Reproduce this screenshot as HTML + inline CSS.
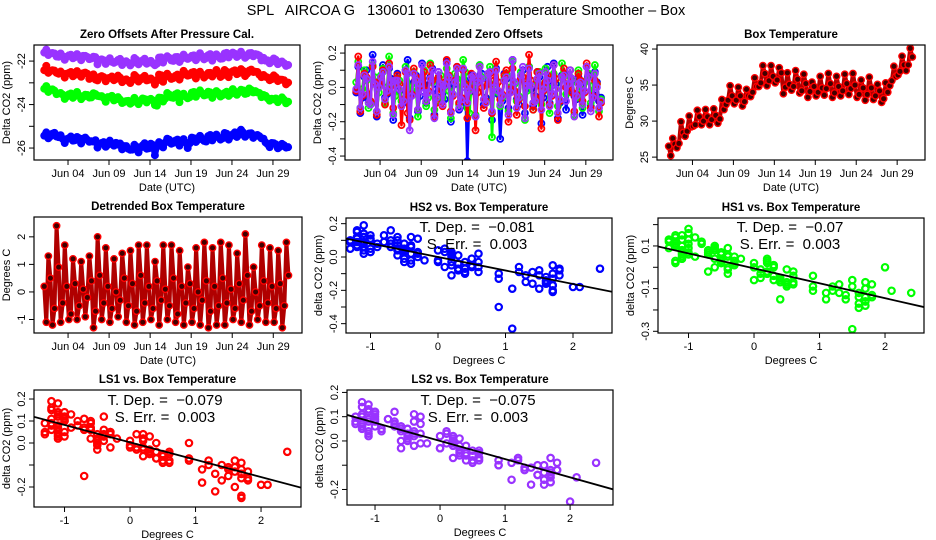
<!DOCTYPE html>
<html><head><meta charset="utf-8"><style>
body{margin:0;background:#fff}
svg{display:block;font-family:"Liberation Sans",sans-serif}
text{white-space:pre}
</style></head><body>
<svg id="chart" width="936" height="540" viewBox="0 0 936 540">
<text x="466" y="15" text-anchor="middle" font-size="14.5" xml:space="preserve">SPL   AIRCOA G   130601 to 130630   Temperature Smoother – Box</text>
</svg>
<script>
// sampling: 4 samples per day starting day 0.1
const sampleStart = 0.1, samplesPerDay = 4;
const dateTicks = [3, 8, 13, 18, 23, 28];
const dateLabels = ["Jun 04","Jun 09","Jun 14","Jun 19","Jun 24","Jun 29"];
// detrended box temperature (deg C)
const tempDetr = [
0.2,-1.1,1.3,0.5, -1.2,-0.6,2.4,0.9, -1.1,-0.4,1.7,0.2, -1.0,-0.8,1.2,0.3, -1.0,-0.5,1.1,0.1,
-0.9,-0.2,1.3,0.4, -1.3,-0.7,2.0,0.6, -1.0,-0.4,1.6,0.2, -1.1,-0.6,1.2,0.0, -0.9,-0.3,1.4,0.5,
-1.1,-0.5,1.5,0.3, -1.2,-0.7,1.7,0.6, -1.1,-0.4,1.7,0.2, -1.0,-0.6,1.1,0.4, -1.2,-0.3,1.7,0.1,
-1.0,-0.5,1.7,0.5, -1.1,-0.8,1.5,0.2, -1.2,-0.4,0.9,0.3, -1.1,-0.6,1.6,0.0, -1.2,-0.3,1.8,0.4,
-1.3,-0.7,1.6,0.2, -1.2,-0.5,1.8,0.5, -1.2,-0.4,1.7,0.1, -1.0,-0.6,1.4,0.3, -1.1,-0.3,2.1,0.6,
-1.2,-0.7,0.9,0.0, -1.0,-0.5,1.7,0.4, -1.1,-0.4,1.6,0.2, -1.1,-0.6,1.5,0.3, -1.3,-0.5,1.8,0.6];
// box temperature daily smooth (deg C), day 0..30
const tempTrend = [26.3,27.5,29.0,30.3,30.5,30.4,31.0,33.3,33.5,33.0,34.5,36.0,36.0,36.3,35.0,35.3,35.0,34.5,34.6,34.8,34.6,34.7,34.9,34.3,34.0,34.2,33.6,36.0,37.5,38.3,37.5];
// detrended zero offsets (ppm)
const hs2 = [
-0.03,0.12,-0.15,-0.06, 0.06,0.10,-0.07,-0.10, 0.19,0.02,-0.17,0.01, 0.05,0.13,-0.06,-0.04, 0.11,0.05,-0.19,0.03,
0.08,-0.02,-0.11,-0.09, 0.10,0.16,-0.18,-0.03, 0.03,0.07,-0.14,-0.05, 0.14,0.01,-0.09,0.04, 0.06,0.11,-0.16,-0.01,
0.09,-0.03,-0.08,-0.07, 0.15,0.06,-0.20,0.02, 0.02,0.12,-0.13,-0.11, 0.10,0.04,-0.43,-0.03, 0.07,0.00,-0.17,0.05,
0.13,0.08,-0.10,-0.06, 0.04,0.09,-0.19,0.00, 0.11,-0.04,-0.30,-0.08, 0.08,0.05,-0.12,-0.02, 0.16,0.03,-0.07,-0.10,
0.05,0.10,-0.15,0.02, 0.12,-0.01,-0.11,-0.05, 0.09,0.06,-0.21,-0.06, 0.03,0.12,-0.09,0.01, 0.14,0.02,-0.18,-0.09,
0.07,0.08,-0.13,-0.03, 0.10,0.04,-0.05,-0.07, 0.06,-0.02,-0.16,0.03, 0.12,0.07,-0.11,-0.04, 0.09,0.03,-0.08,-0.06];
const hs1 = [
0.03,0.15,-0.12,-0.01, 0.10,0.04,-0.12,-0.09, 0.13,0.06,-0.14,-0.03, 0.07,0.11,-0.09,0.00, 0.18,0.02,-0.15,-0.05,
0.05,0.04,-0.08,-0.07, 0.12,0.08,0.00,-0.02, 0.09,0.00,-0.17,0.04, 0.04,0.10,-0.11,-0.06, 0.14,0.03,-0.13,-0.08,
0.06,0.07,-0.06,0.01, 0.11,-0.02,-0.18,-0.04, 0.08,0.05,-0.10,0.03, 0.16,0.09,-0.12,-0.15, 0.02,0.01,-0.16,-0.03,
0.13,0.06,-0.07,-0.09, 0.07,0.12,-0.29,0.02, 0.10,-0.03,-0.11,-0.06, 0.05,0.08,-0.14,0.00, 0.15,0.02,-0.08,-0.05,
0.09,0.06,-0.19,-0.02, 0.12,0.04,-0.13,-0.07, 0.03,0.09,-0.10,-0.01, 0.11,0.00,-0.15,-0.04, 0.08,0.05,-0.11,-0.08,
0.14,0.07,-0.04,0.02, 0.06,0.03,-0.16,-0.06, 0.10,-0.01,-0.12,-0.03, 0.04,0.08,-0.09,0.01, 0.13,0.02,-0.14,-0.07];
const ls1 = [
-0.02,0.18,-0.14,-0.05, 0.08,0.06,-0.04,-0.08, 0.12,0.03,-0.16,0.02, 0.05,0.10,-0.10,-0.03, 0.14,0.01,-0.12,0.04,
0.07,0.02,-0.22,-0.07, 0.09,-0.15,-0.19,-0.04, 0.11,0.06,-0.13,0.01, 0.03,0.09,-0.08,-0.02, 0.13,0.04,-0.17,-0.09,
0.06,-0.01,-0.11,0.03, 0.16,0.07,-0.14,-0.05, 0.04,0.12,-0.09,-0.06, 0.10,0.02,-0.18,0.00, 0.08,0.05,-0.25,-0.03,
0.12,0.00,-0.12,-0.08, 0.02,0.08,-0.15,0.04, 0.15,0.03,-0.07,-0.04, 0.07,0.10,-0.20,-0.01, 0.11,-0.02,-0.16,-0.07,
0.05,0.06,-0.11,0.02, 0.19,0.04,-0.13,-0.06, 0.09,0.01,-0.24,-0.02, 0.03,0.07,-0.10,-0.05, 0.13,0.05,-0.19,-0.08,
0.06,0.11,0.00,0.01, 0.10,-0.03,-0.14,-0.04, 0.08,0.04,-0.08,-0.03, 0.14,0.06,-0.12,-0.05, 0.04,0.02,-0.17,-0.09];
const ls2 = [
-0.01,0.13,-0.12,-0.04, 0.07,0.05,-0.09,-0.10, 0.15,0.02,-0.14,0.00, 0.06,0.09,-0.07,-0.02, 0.12,0.03,-0.16,0.04,
0.04,-0.01,-0.11,-0.08, 0.10,0.08,-0.25,-0.05, 0.08,0.04,-0.13,0.02, 0.13,-0.03,-0.08,-0.03, 0.05,0.10,-0.18,-0.06,
0.09,0.02,-0.10,0.01, 0.14,0.06,-0.15,-0.04, 0.03,0.11,-0.12,-0.07, 0.11,0.00,-0.09,-0.02, 0.06,0.07,-0.17,0.03,
0.12,0.05,-0.07,-0.09, 0.08,0.09,-0.14,0.00, 0.10,-0.02,-0.10,-0.05, 0.04,0.06,-0.16,-0.03, 0.16,0.03,-0.12,-0.06,
0.07,0.12,-0.18,0.01, 0.11,0.01,-0.09,-0.08, 0.05,0.08,-0.13,-0.01, 0.09,0.04,-0.11,-0.04, 0.13,-0.01,-0.15,-0.07,
0.06,0.07,-0.08,0.02, 0.10,0.05,-0.17,-0.05, 0.02,0.03,-0.10,-0.02, 0.12,0.06,-0.14,-0.06, 0.08,0.00,-0.12,-0.08];
// daily zero-offset baselines (ppm), day 0..30
const hs2Base = [-25.4,-25.4,-25.6,-25.6,-25.6,-25.6,-25.8,-25.8,-25.8,-25.9,-26.0,-26.0,-25.9,-25.9,-25.8,-25.7,-25.7,-25.7,-25.6,-25.6,-25.5,-25.5,-25.4,-25.4,-25.3,-25.4,-25.5,-25.8,-25.9,-25.9,-25.8];
const hs1Base = [-23.3,-23.4,-23.6,-23.6,-23.6,-23.6,-23.6,-23.7,-23.7,-23.8,-23.9,-23.8,-23.8,-23.9,-23.7,-23.6,-23.6,-23.6,-23.5,-23.5,-23.5,-23.5,-23.5,-23.4,-23.4,-23.4,-23.5,-23.7,-23.8,-23.8,-23.7];
const ls1Base = [-22.4,-22.5,-22.6,-22.6,-22.6,-22.6,-22.7,-22.8,-22.8,-22.8,-22.9,-22.8,-22.8,-22.9,-22.7,-22.7,-22.7,-22.6,-22.6,-22.6,-22.6,-22.6,-22.5,-22.5,-22.5,-22.5,-22.6,-22.8,-22.8,-22.9,-22.8];
const ls2Base = [-21.6,-21.7,-21.8,-21.8,-21.8,-21.8,-21.9,-22.0,-22.0,-22.0,-22.1,-22.0,-22.0,-22.1,-21.9,-21.9,-21.9,-21.8,-21.8,-21.8,-21.8,-21.8,-21.7,-21.7,-21.7,-21.7,-21.8,-22.0,-22.0,-22.1,-21.9];
// regression results
const slopes = {hs2:-0.081, hs1:-0.07, ls1:-0.079, ls2:-0.075};
const intercepts = {hs2:0.0, hs1:-0.005, ls1:0.003, ls2:0.0};
const serr = "0.003";

const NS = "http://www.w3.org/2000/svg";
const svg = document.getElementById('chart');
function mk(tag, attrs, parent){const e=document.createElementNS(NS,tag);for(const k in attrs)e.setAttribute(k,attrs[k]);(parent||svg).appendChild(e);return e;}
function times(){return tempDetr.map((_,i)=>sampleStart+i/samplesPerDay);}
const T = times();
const COL = {hs2:"#0000ff", hs1:"#00ff00", ls1:"#ff0000", ls2:"#9933ff"};

function panel(name, box, xlim, ylim, title, xlab, ylab){
  const g = mk('g',{});
  
  
  const p = {g, box,
    x: v => box.l + (v - xlim[0])/(xlim[1]-xlim[0])*(box.r-box.l),
    y: v => box.b - (v - ylim[0])/(ylim[1]-ylim[0])*(box.b-box.t)};
  const t = mk('text',{x:(box.l+box.r)/2, y:box.t-7, 'text-anchor':'middle','font-size':11.5,'font-weight':'bold'},g);
  t.textContent = title;
  
  
  const xl = mk('text',{x:(box.l+box.r)/2, y:box.b+31, 'text-anchor':'middle','font-size':11},g);
  xl.textContent = xlab;
  
  
  const cy=(box.t+box.b)/2, cx=box.l-24;
  const yl = mk('text',{x:cx, y:cy, 'text-anchor':'middle','font-size':11, transform:`rotate(-90 ${cx} ${cy})`},g);
  yl.textContent = ylab;
  
  
  p.plot = mk('g',{},g);
  return p;
}
function frame(p){
  const b=p.box;
  const r = mk('rect',{x:b.l,y:b.t,width:b.r-b.l,height:b.b-b.t,fill:'none',stroke:'#000','stroke-width':1.2},p.g);
  
  
}
function xAxis(p, ticks, labels){
  const b=p.box;
  ticks.forEach((v,i)=>{
    const X=p.x(v);
    mk('line',{x1:X,x2:X,y1:b.b,y2:b.b+5,stroke:'#000'},p.g);
    const t=mk('text',{x:X,y:b.b+17,'text-anchor':'middle','font-size':11},p.g);
    t.textContent=labels[i];
    
    
  });
}
function yAxis(p, ticks, labels){
  const b=p.box;
  ticks.forEach((v,i)=>{
    const Y=p.y(v);
    mk('line',{x1:b.l-5,x2:b.l,y1:Y,y2:Y,stroke:'#000'},p.g);
    if(labels[i]!==""){
      const x=b.l-9;
      const t=mk('text',{x:x,y:Y,'text-anchor':'middle','font-size':11,transform:`rotate(-90 ${x} ${Y})`},p.g);
      t.textContent=labels[i];
      
      
    }
  });
}
function clip(p,id){
  const b=p.box;
  const c=mk('clipPath',{id:id},p.g);
  mk('rect',{x:b.l,y:b.t,width:b.r-b.l,height:b.b-b.t},c);
  p.plot.setAttribute('clip-path',`url(#${id})`);
}
function points(p, xs, ys, color, fill, r, sw, nm){
  const g=mk('g',{},p.plot);
  
  
  xs.forEach((xv,i)=>{
    mk('circle',{cx:p.x(xv),cy:p.y(ys[i]),r:r,fill:fill,stroke:color,'stroke-width':sw},g);
  });
}
function line(p, xs, ys, color, w, nm){
  const pl=mk('polyline',{points:xs.map((xv,i)=>p.x(xv)+','+p.y(ys[i])).join(' '),fill:'none',stroke:color,'stroke-width':w,'stroke-linejoin':'round'},p.plot);
  
  
}

// ---- Panel 1: zero offsets
const p1 = panel('zero-offsets-panel',{l:34,r:300,t:45,b:160},[-1.15,31.3],[-26.55,-21.26],'Zero Offsets After Pressure Cal.','Date (UTC)','Delta CO2 (ppm)');
clip(p1,'c1');
[['ls2',ls2,ls2Base],['ls1',ls1,ls1Base],['hs1',hs1,hs1Base],['hs2',hs2,hs2Base]].forEach(([k,arr,base])=>{
  const ys = arr.map((v,i)=>base[Math.floor(T[i])]+v);
  line(p1,T,ys,COL[k],6,k+'-raw-line');
  points(p1,T,ys,COL[k],COL[k],3.3,1.4,k+'-raw-points');
});
frame(p1); xAxis(p1,dateTicks,dateLabels);
yAxis(p1,[-22,-23,-24,-25,-26],['-22','','-24','','-26']);

// ---- Panel 2: detrended zero offsets
const p2 = panel('detrended-offsets-panel',{l:345,r:613,t:45,b:160},[-1.26,31.3],[-0.423,0.247],'Detrended Zero Offsets','Date (UTC)','Delta CO2 (ppm)');
clip(p2,'c2');
[['hs2',hs2],['hs1',hs1],['ls1',ls1],['ls2',ls2]].forEach(([k,arr])=>{
  line(p2,T,arr,COL[k],2.6,k+'-detrended-line');
  points(p2,T,arr,COL[k],'none',3,1.8,k+'-detrended-points');
});
frame(p2); xAxis(p2,dateTicks,dateLabels);
yAxis(p2,[0.2,0.1,0,-0.1,-0.2,-0.3,-0.4],['0.2','','0.0','','-0.2','','-0.4']);

// ---- Panel 3: box temperature
const p3 = panel('box-temperature-panel',{l:657,r:925,t:45,b:160},[-1.33,31.4],[24.6,40.56],'Box Temperature','Date (UTC)','Degrees C');
clip(p3,'c3');
const boxT = tempDetr.map((v,i)=>tempTrend[Math.floor(T[i])]+v);
line(p3,T,boxT,'#b00000',4,'box-temp-line');
points(p3,T,boxT,'#ff0000','#400000',3.2,1.4,'box-temp-points');
frame(p3); xAxis(p3,dateTicks,dateLabels);
yAxis(p3,[25,30,35,40],['25','30','35','40']);

// ---- Panel 4: detrended box temperature
const p4 = panel('detrended-box-temp-panel',{l:34,r:302,t:217,b:333},[-1.15,31.5],[-1.49,2.72],'Detrended Box Temperature','Date (UTC)','Degrees C');
clip(p4,'c4');
line(p4,T,tempDetr,'#b00000',4,'detrended-temp-line');
points(p4,T,tempDetr,'#ff0000','#400000',3.2,1.4,'detrended-temp-points');
frame(p4); xAxis(p4,dateTicks,dateLabels);
yAxis(p4,[-1,0,1,2],['-1','0','1','2']);

// ---- scatter panels
function scatter(name,box,xlim,ylim,title,k,arr,yt,yl,tdep,tx,ty){
  const p = panel(name,box,xlim,ylim,title,'Degrees C','delta CO2 (ppm)');
  clip(p,'c'+k);
  points(p,tempDetr,arr,COL[k],'none',3.2,2.2,k+'-scatter-points');
  const a=mk('text',{x:tx,y:ty,'text-anchor':'middle','font-size':15},p.plot);
  a.textContent='T. Dep. =  '+tdep;
  
  
  const s=mk('text',{x:tx,y:ty+17,'text-anchor':'middle','font-size':15},p.plot);
  s.textContent='S. Err. =  '+serr;
  
  
  const fx=[xlim[0],xlim[1]];
  line(p,fx,fx.map(v=>intercepts[k]+slopes[k]*v),'#000',1.8,k+'-fit-line');
  frame(p); xAxis(p,[-1,0,1,2],['-1','0','1','2']);
  yAxis(p,yt,yl);
}
scatter('hs2-scatter-panel',{l:346,r:612,t:218,b:333},[-1.363,2.578],[-0.456,0.234],'HS2 vs. Box Temperature','hs2',hs2,
  [0.2,0.1,0,-0.1,-0.2,-0.3,-0.4],['0.2','','0.0','','-0.2','','-0.4'],'\u22120.081',477,232);
scatter('hs1-scatter-panel',{l:658,r:924,t:218,b:333},[-1.466,2.595],[-0.308,0.231],'HS1 vs. Box Temperature','hs1',hs1,
  [0.2,0.1,0,-0.1,-0.2,-0.3],['','0.1','','-0.1','','-0.3'],'\u22120.07',790,232);
scatter('ls1-scatter-panel',{l:34,r:301,t:390,b:507},[-1.466,2.61],[-0.291,0.241],'LS1 vs. Box Temperature','ls1',ls1,
  [0.2,0.1,0,-0.1,-0.2],['0.2','0.1','0.0','','-0.2'],'\u22120.079',165,405);
scatter('ls2-scatter-panel',{l:347,r:613,t:390,b:505},[-1.431,2.66],[-0.264,0.21],'LS2 vs. Box Temperature','ls2',ls2,
  [0.2,0.1,0,-0.1,-0.2],['0.2','0.1','0.0','','-0.2'],'\u22120.075',478,405);
</script>
</body></html>
